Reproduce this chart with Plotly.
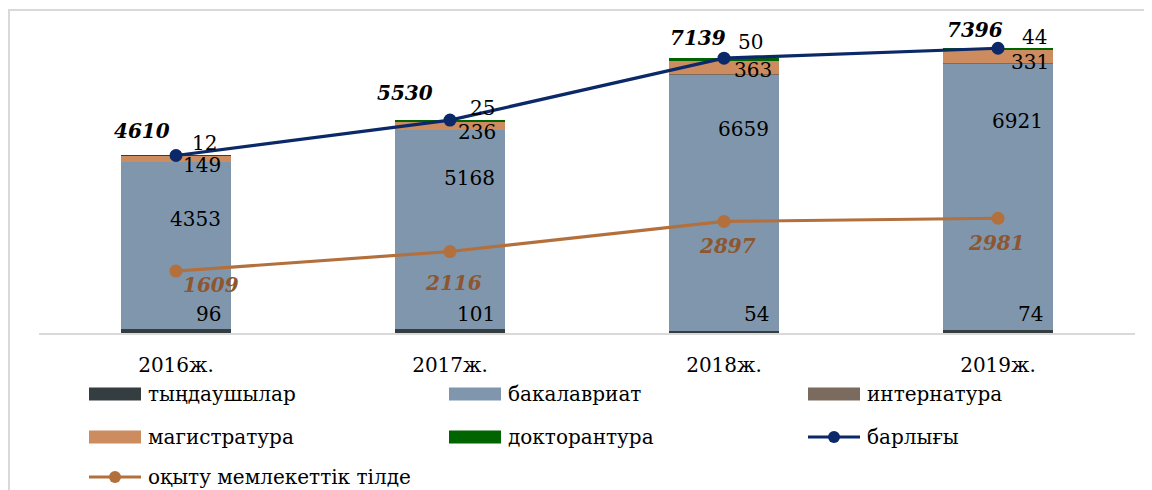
import plotly.graph_objects as go

# ---- data ----
years = ["2016ж.", "2017ж.", "2018ж.", "2019ж."]
tyndaushylar = [96, 101, 54, 74]
bakalavriat = [4353, 5168, 6659, 6921]
internatura = [0, 0, 13, 26]
magistratura = [149, 236, 363, 331]
doktorantura = [12, 25, 50, 44]
barlygy = [4610, 5530, 7139, 7396]
memlekettik = [1609, 2116, 2897, 2981]

legend_names = ["тыңдаушылар", "бакалавриат", "интернатура", "магистратура",
                "докторантура", "барлығы", "оқыту мемлекеттік тілде"]

# ---- style ----
FONT = "DejaVu Serif"
C_TYN = "#343d40"
C_BAK = "#7f96ac"
C_INT = "#7b6a5e"
C_MAG = "#cd8c5f"
C_DOK = "#006400"
C_TOT = "#0b2868"
C_MEM = "#b3703c"
C_MEM_TXT = "#8e5630"

OFF = 8  # page body margin
W, H = 1152 - OFF, 490 - OFF
ML, MR, MT, MB = 39 - OFF, 17, 25 - OFF, 157
PW, PH = W - ML - MR, H - MT - MB


def px(x):
    return (x - OFF - ML) / PW


def py(y):
    return (H - MB - (y - OFF)) / PH


fig = go.Figure()
bar_series = [
    (legend_names[0], tyndaushylar, C_TYN),
    (legend_names[1], bakalavriat, C_BAK),
    (legend_names[2], internatura, C_INT),
    (legend_names[3], magistratura, C_MAG),
    (legend_names[4], doktorantura, C_DOK),
]
for name, vals, col in bar_series:
    fig.add_trace(go.Bar(x=years, y=vals, name=name, marker=dict(color=col, line=dict(width=0)),
                         showlegend=False, hoverinfo="y+name"))

fig.add_trace(go.Scatter(x=years, y=barlygy, name=legend_names[5], mode="lines+markers",
                         line=dict(color=C_TOT, width=3.2), marker=dict(color=C_TOT, size=13),
                         showlegend=False))
fig.add_trace(go.Scatter(x=years, y=memlekettik, name=legend_names[6], mode="lines+markers",
                         line=dict(color=C_MEM, width=3.2), marker=dict(color=C_MEM, size=13),
                         showlegend=False))

ann = []
lab_font = dict(family=FONT, size=20, color="#000000")

# label offsets (pixels)
bak_dy = [-57, -48, -54, -57]
mag_dy = [-3, -2, 4, 1]
mag_dx = [47, 48, 50, 53]
dok_dy = [13, 12, 16, 11]
dok_dx = [43, 47, 41, 51]
tot_off = [(-34, 25), (-45, 27), (-26, 20), (-23, 18)]
mem_off = [(35, -14), (3, -31), (3, -25), (-2, -25)]

for i, yr in enumerate(years):
    base_bak = tyndaushylar[i] + bakalavriat[i]
    base_mag = base_bak + internatura[i]
    top = base_mag + magistratura[i] + doktorantura[i]
    ann.append(dict(x=yr, y=0, text=str(tyndaushylar[i]), showarrow=False, xanchor="right",
                    yanchor="middle", xshift=47, yshift=19, font=lab_font))
    ann.append(dict(x=yr, y=base_bak, text=str(bakalavriat[i]), showarrow=False, xanchor="right",
                    yanchor="middle", xshift=47, yshift=bak_dy[i], font=lab_font))
    ann.append(dict(x=yr, y=base_mag, text=str(magistratura[i]), showarrow=False, xanchor="right",
                    yanchor="middle", xshift=mag_dx[i], yshift=mag_dy[i], font=lab_font))
    ann.append(dict(x=yr, y=top, text=str(doktorantura[i]), showarrow=False, xanchor="right",
                    yanchor="middle", xshift=dok_dx[i], yshift=dok_dy[i], font=lab_font))
    ann.append(dict(x=yr, y=barlygy[i], text="<b><i>%d</i></b>" % barlygy[i], showarrow=False,
                    xanchor="center", yanchor="middle", xshift=tot_off[i][0], yshift=tot_off[i][1],
                    font=dict(family=FONT, size=20, color="#000000")))
    ann.append(dict(x=yr, y=memlekettik[i], text="<b><i>%d</i></b>" % memlekettik[i], showarrow=False,
                    xanchor="center", yanchor="middle", xshift=mem_off[i][0], yshift=mem_off[i][1],
                    font=dict(family=FONT, size=20, color=C_MEM_TXT)))

# ---- custom legend ----
shapes = []
leg_font = dict(family=FONT, size=20, color="#000000")
cols_x = [89, 449, 808]
rows_y = [394, 437, 477]
entries = [
    ("box", C_TYN), ("box", C_BAK), ("box", C_INT),
    ("box", C_MAG), ("box", C_DOK), ("line", C_TOT),
    ("line", C_MEM),
]
for k, (kind, col) in enumerate(entries):
    r, c = divmod(k, 3)
    x0 = cols_x[c]
    yc = rows_y[r]
    if kind == "box":
        shapes.append(dict(type="rect", xref="paper", yref="paper", x0=px(x0), x1=px(x0 + 52),
                           y0=py(yc + 6.5), y1=py(yc - 6.5), fillcolor=col, line=dict(width=0)))
    else:
        shapes.append(dict(type="line", xref="paper", yref="paper", x0=px(x0), x1=px(x0 + 52),
                           y0=py(yc), y1=py(yc), line=dict(color=col, width=3)))
        shapes.append(dict(type="circle", xref="paper", yref="paper", x0=px(x0 + 20), x1=px(x0 + 32),
                           y0=py(yc + 6), y1=py(yc - 6), fillcolor=col, line=dict(width=0)))
    ann.append(dict(xref="paper", yref="paper", x=px(x0 + 57), y=py(yc), text=legend_names[k],
                    showarrow=False, xanchor="left", yanchor="middle", font=leg_font))

# outer frame
shapes.append(dict(type="rect", xref="paper", yref="paper", x0=px(9), x1=px(1170), y0=py(510), y1=py(10),
                   line=dict(color="#d9d9d9", width=2), fillcolor="rgba(0,0,0,0)", layer="below"))

fig.update_layout(
    width=W, height=H,
    margin=dict(l=ML, r=MR, t=MT, b=MB),
    barmode="stack", bargap=0.6,
    paper_bgcolor="white", plot_bgcolor="white",
    showlegend=False,
    font=dict(family=FONT, size=20, color="#000000"),
    xaxis=dict(type="category", range=[-0.5, 3.5], showline=True, linecolor="#d9d9d9", linewidth=2,
               showgrid=False, ticks="", ticklabelstandoff=13,
               tickfont=dict(family=FONT, size=20, color="#000000")),
    yaxis=dict(range=[0, 8000], visible=False, showgrid=False, zeroline=False),
    annotations=ann,
    shapes=shapes,
)

fig.write_html("out.html")
